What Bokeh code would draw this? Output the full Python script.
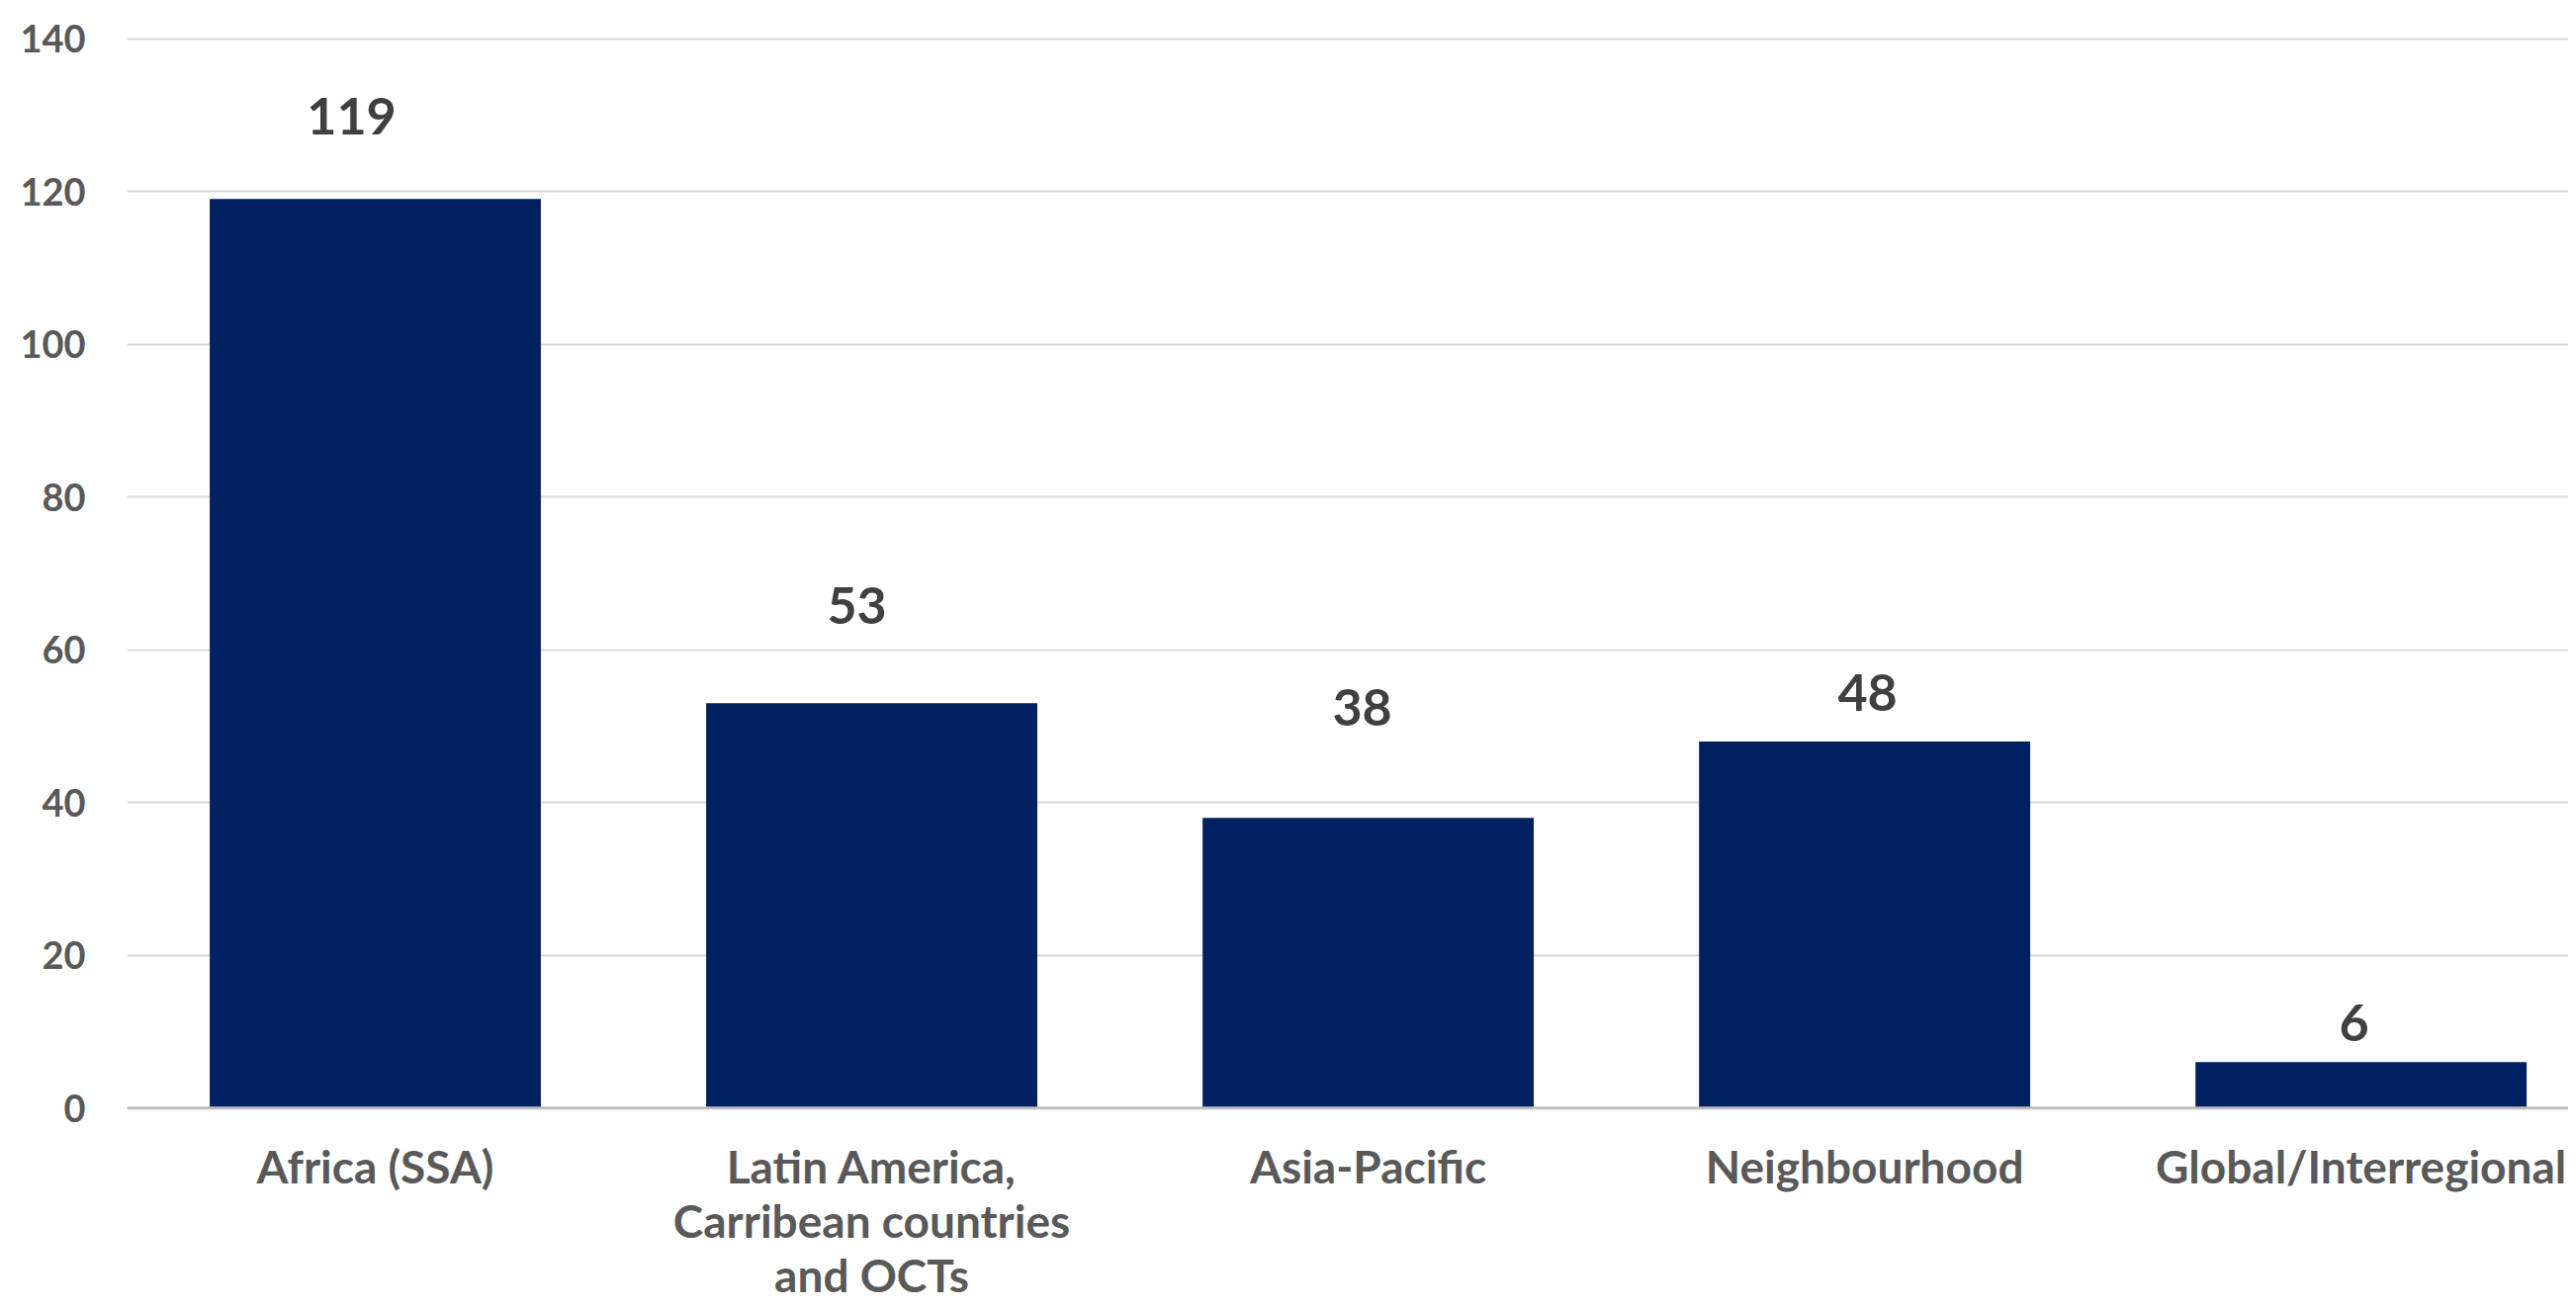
from bokeh.plotting import figure
from bokeh.models import Range1d, FixedTicker, LabelSet, ColumnDataSource, Span
from bokeh.core.properties import value
from bokeh.embed import file_html
from bokeh.resources import INLINE

# ---- data ----
categories = [
    "Africa (SSA)",
    "Latin America,\nCarribean countries\nand OCTs",
    "Asia-Pacific",
    "Neighbourhood",
    "Global/Interregional",
]
values = [119, 53, 38, 48, 6]
y_ticks = [0, 20, 40, 60, 80, 100, 120, 140]

# ---- layout (manual nudges of value labels, in px) ----
label_dx = [-24, -15, -6, 3, -7]
label_dy = [65, 80, 93, 31, 21]

FONT = "Lato"
centers = [i + 0.5 for i in range(len(categories))]

src = ColumnDataSource(dict(
    x=centers,
    top=values,
    txt=[str(v) for v in values],
    dx=label_dx,
    dy=label_dy,
))

# one row per line of each category label, so every line is centred
FIRST_BASELINE = 76   # px below the zero line
LINE_STEP = 55        # px between lines
lx, ltxt, loff = [], [], []
for c, name in zip(centers, categories):
    for k, line in enumerate(name.split("\n")):
        lx.append(c)
        ltxt.append(line)
        loff.append(-(FIRST_BASELINE + k * LINE_STEP))
cat_src = ColumnDataSource(dict(x=lx, y=[0] * len(lx), txt=ltxt, off=loff))

p = figure(
    width=2597, height=1318,
    x_range=Range1d(0, 4.918), y_range=Range1d(-25.6, 145.0),
    output_backend="svg", toolbar_location=None,
    min_border_left=128, min_border_right=0, min_border_top=0, min_border_bottom=0,
)
p.outline_line_color = None
p.background_fill_color = "white"
p.border_fill_color = "white"
p.xaxis.visible = False

p.vbar(x="x", top="top", width=0.667, source=src, fill_color="#002060", line_color=None)

# y axis
p.yaxis.ticker = FixedTicker(ticks=y_ticks)
p.yaxis.axis_line_color = None
p.yaxis.major_tick_line_color = None
p.yaxis.minor_tick_line_color = None
p.yaxis.major_label_text_font = FONT
p.yaxis.major_label_text_font_style = "bold"
p.yaxis.major_label_text_font_size = "38px"
p.yaxis.major_label_text_color = "#595959"
p.yaxis.major_label_standoff = 36

p.xgrid.grid_line_color = None
p.ygrid.ticker = FixedTicker(ticks=y_ticks)
p.ygrid.grid_line_color = "#D9D9D9"
p.ygrid.grid_line_width = 2

# base line at zero
p.add_layout(Span(location=0, dimension="width", line_color="#BFBFBF", line_width=3))

# category labels
cat_labels = LabelSet(
    x="x", y="y", text="txt", source=cat_src,
    y_offset="off", text_align="center", text_baseline="alphabetic",
    text_font=value(FONT), text_font_style="bold", text_font_size="46px",
    text_color="#595959",
)
p.add_layout(cat_labels)

# value labels
val_labels = LabelSet(
    x="x", y="top", text="txt", source=src,
    x_offset="dx", y_offset="dy", text_align="center", text_baseline="alphabetic",
    text_font=value(FONT), text_font_style="bold", text_font_size="52px",
    text_color="#404040",
)
p.add_layout(val_labels)

open("out.html", "w").write(file_html(p, INLINE))
